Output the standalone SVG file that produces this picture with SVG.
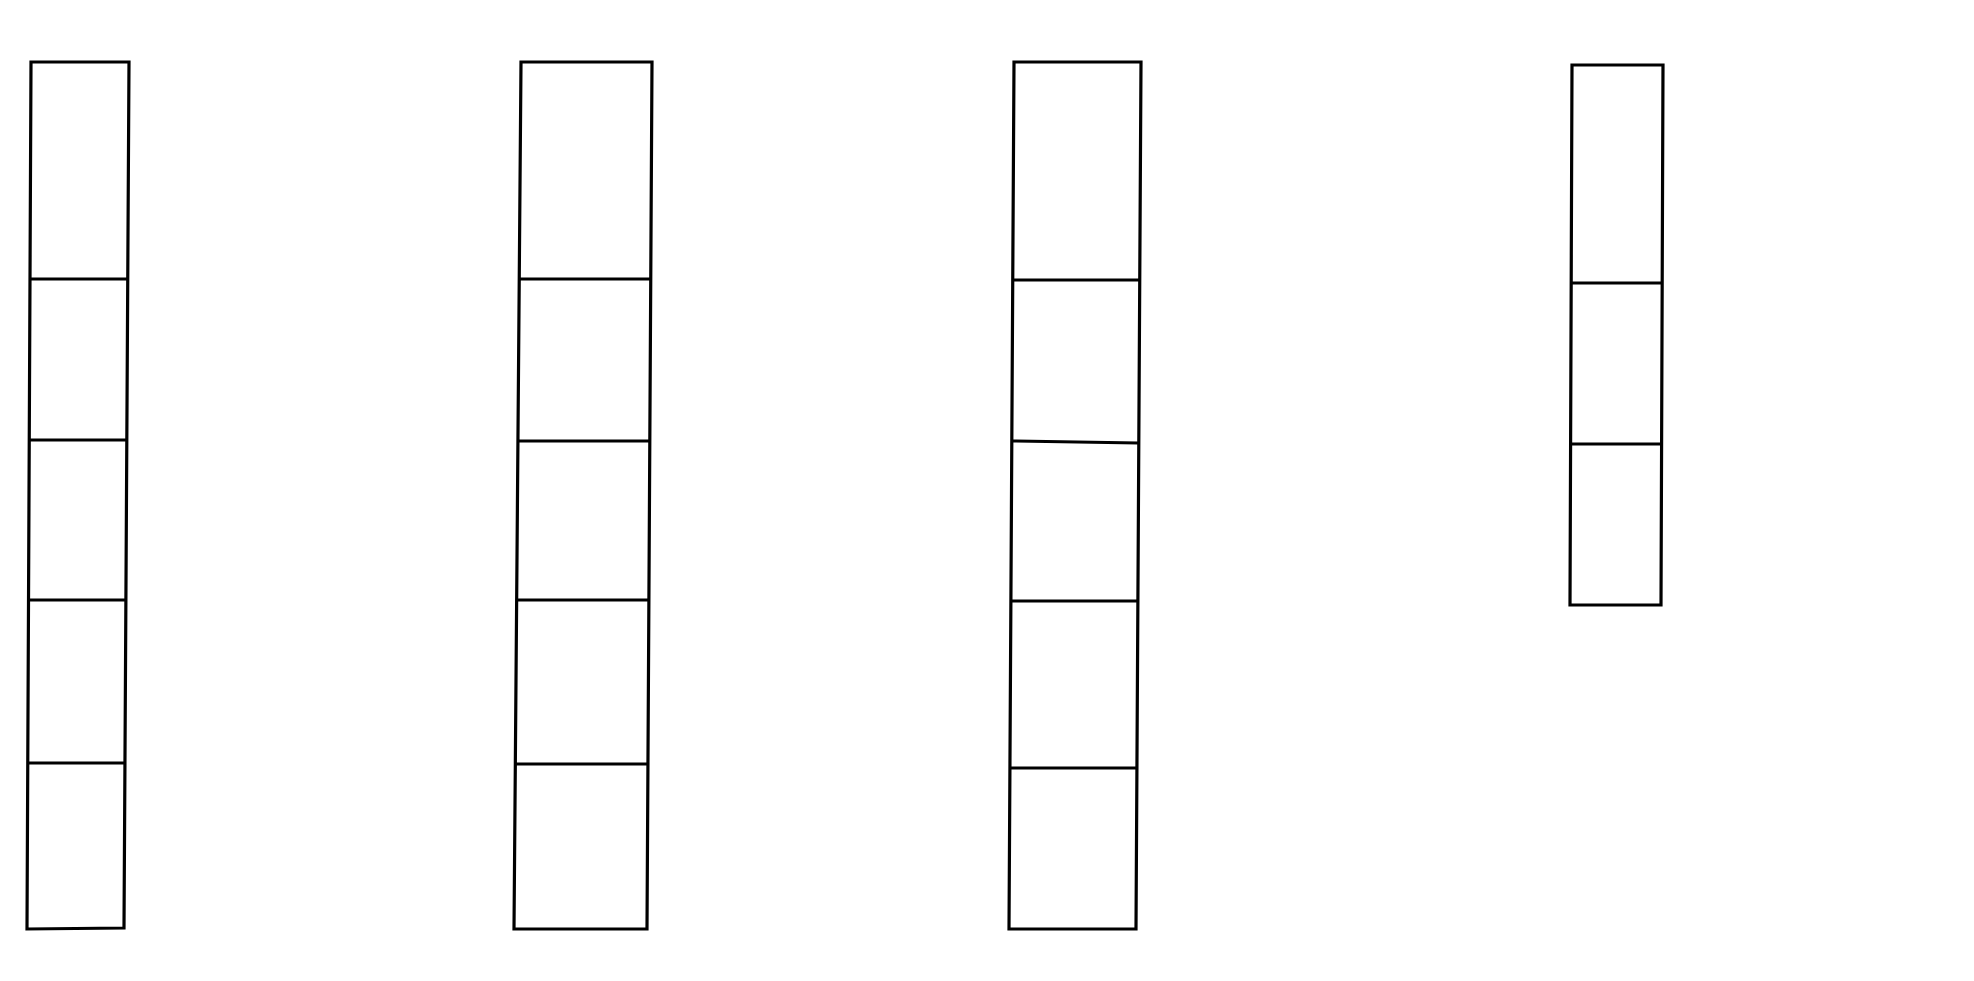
<svg xmlns="http://www.w3.org/2000/svg" width="1974" height="981" viewBox="0 0 1974 981">
<style>
.box{fill:none;stroke:#000;stroke-width:3.2;stroke-linejoin:miter}
.div{fill:none;stroke:#000;stroke-width:3}
</style>
<rect x="0" y="0" width="1974" height="981" fill="#ffffff"/>
<g id="column1">
<polygon class="box" points="31,62 129,62 124,928 27,929"/>
<line class="div" x1="30" y1="279" x2="127" y2="279"/>
<line class="div" x1="29" y1="440" x2="126" y2="440"/>
<line class="div" x1="28" y1="600" x2="125" y2="600"/>
<line class="div" x1="27" y1="763" x2="125" y2="763"/>
</g>
<g id="column2">
<polygon class="box" points="521,62 652,62 647,929 514,929"/>
<line class="div" x1="520" y1="279" x2="651" y2="279"/>
<line class="div" x1="518" y1="441" x2="649" y2="441"/>
<line class="div" x1="516" y1="600" x2="648" y2="600"/>
<line class="div" x1="515" y1="764" x2="648" y2="764"/>
</g>
<g id="column3">
<polygon class="box" points="1014,62 1141,62 1136,929 1009,929"/>
<line class="div" x1="1013" y1="280" x2="1140" y2="280"/>
<line class="div" x1="1012" y1="441" x2="1138" y2="443"/>
<line class="div" x1="1010" y1="601" x2="1137" y2="601"/>
<line class="div" x1="1010" y1="768" x2="1136" y2="768"/>
</g>
<g id="column4">
<polygon class="box" points="1572,65 1663,65 1661,605 1570,605"/>
<line class="div" x1="1571" y1="283" x2="1662" y2="283"/>
<line class="div" x1="1571" y1="444" x2="1661" y2="444"/>
</g>
<g id="connectors"></g>
</svg>
